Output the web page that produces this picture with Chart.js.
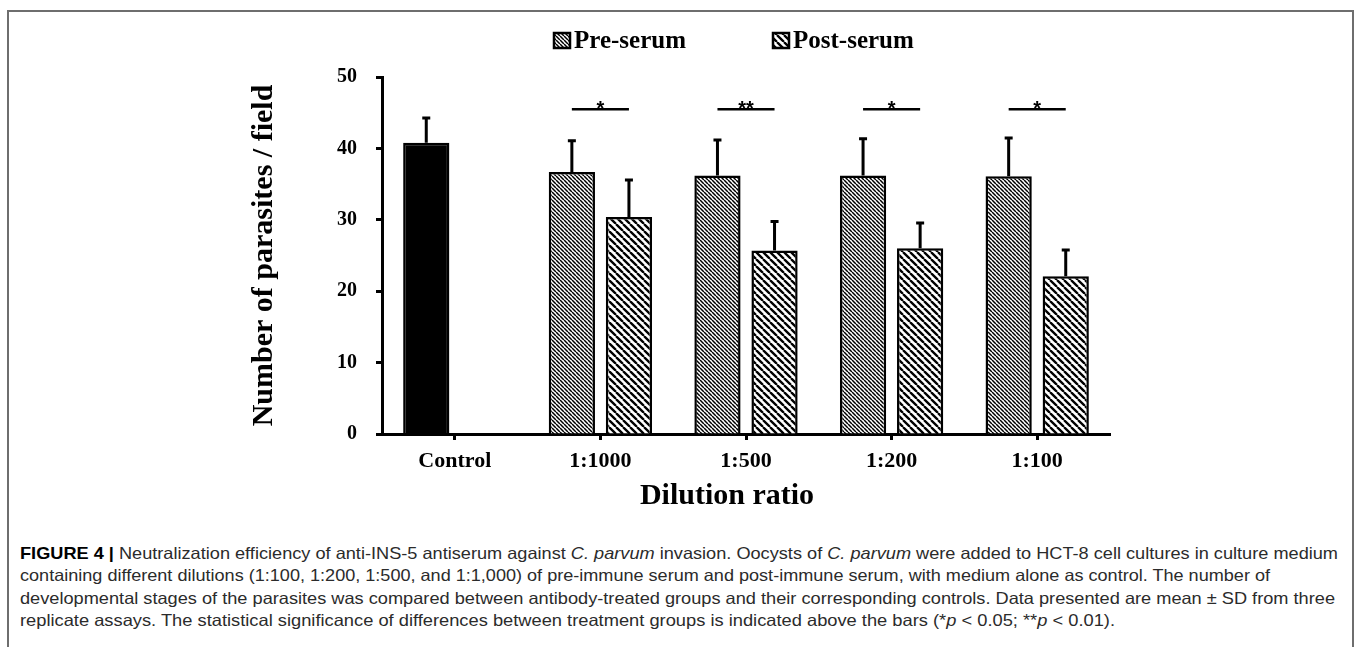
<!DOCTYPE html>
<html>
<head>
<meta charset="utf-8">
<script src="https://cdn.jsdelivr.net/npm/chart.js@4.4.1/dist/chart.umd.min.js"></script>
<style>
  html, body { margin: 0; padding: 0; background: #fff; }
  body { width: 1360px; height: 647px; position: relative; overflow: hidden; }
  #frame {
    position: absolute; left: 7px; top: 10px; width: 1347px; height: 660px;
    border: 2px solid #6e6e6e; box-sizing: border-box;
  }
  #wrap { position: absolute; left: 0; top: 0; width: 1360px; height: 520px; }
  #caption {
    position: absolute; left: 20px; top: 542px;
    font-family: "Liberation Sans", Arial, sans-serif; font-size: 16.5px;
    line-height: 22.3px; color: #2b2b2b;
  }
  #caption div { white-space: nowrap; width: max-content; transform-origin: 0 50%; }
  #caption b { color: #000; }
</style>
</head>
<body>
<div id="frame"></div>
<div id="wrap"><canvas id="chart" width="1360" height="520"></canvas></div>
<div id="caption">
  <div><b>FIGURE 4 |</b> Neutralization efficiency of anti-INS-5 antiserum against <i>C. parvum</i> invasion. Oocysts of <i>C. parvum</i> were added to HCT-8 cell cultures in culture medium</div>
  <div>containing different dilutions (1:100, 1:200, 1:500, and 1:1,000) of pre-immune serum and post-immune serum, with medium alone as control. The number of</div>
  <div>developmental stages of the parasites was compared between antibody-treated groups and their corresponding controls. Data presented are mean ± SD from three</div>
  <div>replicate assays. The statistical significance of differences between treatment groups is indicated above the bars (*<i>p</i> &lt; 0.05; **<i>p</i> &lt; 0.01).</div>
</div>
<script>
const categories = ["Control", "1:1000", "1:500", "1:200", "1:100"];
const seriesNames = ["Pre-serum", "Post-serum"];
const preSerum = [40.8, 36.7, 36.2, 36.2, 36.1];
const preSerumSD = [3.6, 4.5, 5.1, 5.3, 5.5];
const postSerum = [null, 30.4, 25.7, 26.0, 22.1];
const postSerumSD = [null, 5.3, 4.2, 3.7, 3.8];
const significance = ["", "*", "**", "*", "*"];
const sigLevel = 45.5;
const yMin = 0;
const yMax = 50;
const yStep = 10;
const xTitle = "Dilution ratio";
const yTitle = "Number of parasites / field";

const SERIF = `"Liberation Serif", "Times New Roman", serif`;

// stretch each caption line to the width it has in the figure
(function fitCaption() {
  const widths = [1318, 1250, 1315, 1095];
  document.querySelectorAll("#caption div").forEach((l, i) => {
    const k = widths[i] / l.getBoundingClientRect().width;
    l.style.transform = `scaleX(${k})`;
  });
})();

const canvas = document.getElementById("chart");
const ctx = canvas.getContext("2d");

function makeStripes(period, lineWidth) {
  const tile = document.createElement("canvas");
  tile.width = period;
  tile.height = period;
  const t = tile.getContext("2d");
  t.fillStyle = "#fff";
  t.fillRect(0, 0, period, period);
  t.strokeStyle = "#000";
  t.lineWidth = lineWidth;
  t.beginPath();
  for (let k = -1; k <= 1; k++) {
    t.moveTo(k * period, 0);
    t.lineTo(k * period + period, period);
  }
  t.stroke();
  return ctx.createPattern(tile, "repeat");
}

const preFill = makeStripes(4, 1.5);
const postFill = makeStripes(7, 2.3);
const fills = [preFill, postFill];

// error bars (upward only, with cap)
const errorBars = {
  id: "errorBars",
  afterDatasetsDraw(chart) {
    const c = chart.ctx;
    const y = chart.scales.y;
    const sds = [preSerumSD, postSerumSD];
    c.save();
    c.strokeStyle = "#000";
    c.lineWidth = 3;
    chart.data.datasets.forEach((ds, i) => {
      chart.getDatasetMeta(i).data.forEach((bar, j) => {
        const v = ds.data[j];
        if (v == null) return;
        const top = y.getPixelForValue(v + sds[i][j]);
        c.beginPath();
        c.moveTo(bar.x, bar.y);
        c.lineTo(bar.x, top);
        c.moveTo(bar.x - 4, top + 1);
        c.lineTo(bar.x + 4, top + 1);
        c.stroke();
      });
    });
    c.restore();
  }
};

// significance bars between pre and post
const sigMarks = {
  id: "sigMarks",
  afterDatasetsDraw(chart) {
    const c = chart.ctx;
    const y = chart.scales.y.getPixelForValue(sigLevel);
    const pre = chart.getDatasetMeta(0).data;
    const post = chart.getDatasetMeta(1).data;
    c.save();
    c.strokeStyle = "#000";
    c.fillStyle = "#000";
    c.lineWidth = 2.5;
    c.font = `bold 20px "Liberation Sans", Arial, sans-serif`;
    c.textAlign = "center";
    c.textBaseline = "alphabetic";
    significance.forEach((s, j) => {
      if (!s) return;
      const x1 = pre[j].x, x2 = post[j].x;
      c.beginPath();
      c.moveTo(x1, y);
      c.lineTo(x2, y);
      c.stroke();
      c.fillText(s, (x1 + x2) / 2, y + 6);
    });
    c.restore();
  }
};

// legend above the plot and x title below it
const extraText = {
  id: "extraText",
  afterDraw(chart) {
    const c = chart.ctx;
    const items = [{x: 554, name: seriesNames[0]}, {x: 773, name: seriesNames[1]}];
    c.save();
    c.font = `bold 25px ${SERIF}`;
    c.textBaseline = "alphabetic";
    c.textAlign = "left";
    items.forEach((it, i) => {
      c.fillStyle = fills[i];
      c.fillRect(it.x, 33, 16, 15);
      c.strokeStyle = "#000";
      c.lineWidth = 2.5;
      c.strokeRect(it.x, 33, 16, 15);
      c.fillStyle = "#000";
      c.fillText(it.name, it.x + 20, 48);
    });
    const area = chart.chartArea;
    c.font = `bold 30px ${SERIF}`;
    c.textAlign = "center";
    c.fillText(xTitle, (area.left + area.right) / 2 - 19, 504);
    c.restore();
  }
};

new Chart(canvas, {
  type: "bar",
  data: {
    labels: categories,
    datasets: [
      {
        label: seriesNames[0],
        data: preSerum,
        backgroundColor: preSerum.map((v, i) => (i === 0 ? "#000" : preFill)),
        borderColor: "#000",
        borderWidth: 2.5,
        categoryPercentage: 0.784,
        barPercentage: 0.81
      },
      {
        label: seriesNames[1],
        data: postSerum,
        backgroundColor: postFill,
        borderColor: "#000",
        borderWidth: 2.5,
        categoryPercentage: 0.784,
        barPercentage: 0.81
      }
    ]
  },
  options: {
    responsive: false,
    animation: false,
    events: [],
    layout: { padding: { left: 242, top: 77, right: 250, bottom: 4 } },
    plugins: {
      legend: { display: false },
      tooltip: { enabled: false }
    },
    scales: {
      x: {
        afterFit(scale) { scale.height = 82; },
        grid: { offset: false, drawOnChartArea: false, drawTicks: true, tickLength: 6, tickWidth: 3, color: "#000" },
        border: { display: true, width: 3, color: "#000" },
        ticks: { color: "#000", padding: 8, font: { family: SERIF, size: 22, weight: "bold" } },
        title: { display: false }
      },
      y: {
        min: yMin, max: yMax,
        afterFit(scale) { scale.width = 140; },
        grid: { drawOnChartArea: false, drawTicks: true, tickLength: 6, tickWidth: 3, color: "#000" },
        border: { display: true, width: 3, color: "#000" },
        ticks: { stepSize: yStep, color: "#000", padding: 19, font: { family: SERIF, size: 20, weight: "bold" } },
        title: {
          display: true, text: yTitle, color: "#000",
          font: { family: SERIF, size: 30, weight: "bold" }, padding: { top: 4, bottom: 14 }
        }
      }
    }
  },
  plugins: [errorBars, sigMarks, extraText]
});
</script>
</body>
</html>
